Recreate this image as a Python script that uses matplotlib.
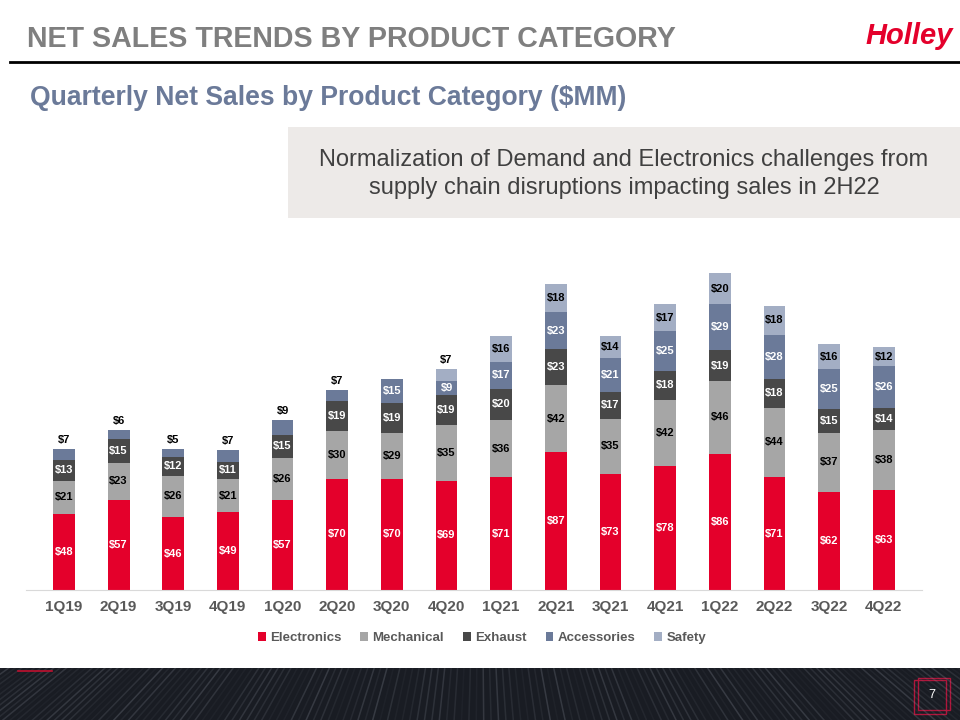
import numpy as np
import matplotlib
matplotlib.use("Agg")
import matplotlib.pyplot as plt
from matplotlib.patches import Rectangle

quarters = ["1Q19", "2Q19", "3Q19", "4Q19", "1Q20", "2Q20", "3Q20", "4Q20",
            "1Q21", "2Q21", "3Q21", "4Q21", "1Q22", "2Q22", "3Q22", "4Q22"]
categories = ["Electronics", "Mechanical", "Exhaust", "Accessories", "Safety"]
electronics = [48, 57, 46, 49, 57, 70, 70, 69, 71, 87, 73, 78, 86, 71, 62, 63]
mechanical = [21, 23, 26, 21, 26, 30, 29, 35, 36, 42, 35, 42, 46, 44, 37, 38]
exhaust = [13, 15, 12, 11, 15, 19, 19, 19, 20, 23, 17, 18, 19, 18, 15, 14]
accessories = [7, 6, 5, 7, 9, 7, 15, 9, 17, 23, 21, 25, 29, 28, 25, 26]
safety = [0, 0, 0, 0, 0, 0, 0, 7, 16, 18, 14, 17, 20, 18, 16, 12]

colors = ["#e4002b", "#a6a6a6", "#484848", "#6b7a99", "#a3aec4"]
label_colors = ["white", "black", "white", "white", "black"]

ARIAL = ["Liberation Sans", "DejaVu Sans"]

W, H = 960, 720
fig = plt.figure(figsize=(9.6, 7.2), dpi=100)


def fx(x):
    return x / W


def fy(y):
    return 1 - y / H


# header
fig.text(fx(27), fy(39), "NET SALES TRENDS BY PRODUCT CATEGORY", family=ARIAL,
         weight="bold", size=20.6, color="#7f7f7f", va="center", ha="left")
fig.text(fx(953), fy(36), "Holley", family=ARIAL, weight="heavy", style="italic",
         size=21, color="#e4002b", va="center", ha="right")
fig.add_artist(plt.Line2D([fx(10), fx(960)], [fy(62), fy(62)], color="black", lw=2))
fig.text(fx(30), fy(98), "Quarterly Net Sales by Product Category ($MM)", family=ARIAL,
         weight="bold", size=19.1, color="#6b7a99", va="center", ha="left")

# note box
fig.add_artist(Rectangle((fx(288), fy(218)), fx(960 - 288), (218 - 127) / H,
                         transform=fig.transFigure, color="#edeae8", lw=0))
fig.text(fx(624), fy(174), "Normalization of Demand and Electronics challenges from\n"
         "supply chain disruptions impacting sales in 2H22", family=ARIAL,
         size=17, color="#404040", ha="center", va="center", linespacing=1.35)

# chart
ax = fig.add_axes([fx(25.7), fy(590), fx(922 - 25.7), (590 - 241) / H])
series = [electronics, mechanical, exhaust, accessories, safety]
x = np.arange(len(quarters))
bottom = np.zeros(len(quarters))
for name, vals, c in zip(categories, series, colors):
    ax.bar(x, vals, bottom=bottom, width=0.4, color=c, label=name, lw=0)
    bottom += np.array(vals)

totals = bottom
bottom = np.zeros(len(quarters))
for k, vals in enumerate(series):
    for i, v in enumerate(vals):
        if v == 0:
            continue
        is_top = all(s[i] == 0 for s in series[k + 1:])
        if is_top and v < 10:
            ax.annotate(f"${v}", (i, totals[i]), xytext=(0, 3), textcoords="offset points",
                        ha="center", va="bottom", size=8, weight="bold",
                        family=ARIAL, color="black")
        else:
            ax.text(i, bottom[i] + v / 2, f"${v}", ha="center", va="center", size=8,
                    weight="bold", family=ARIAL, color=label_colors[k])
    bottom += np.array(vals)

ax.set_xlim(-0.7, 15.7)
ax.set_ylim(0, 220)
ax.set_yticks([])
ax.set_xticks(x)
ax.set_xticklabels(quarters, family=ARIAL, weight="bold", size=11, color="#595959")
ax.tick_params(axis="x", length=0, pad=7)
for s in ["top", "left", "right"]:
    ax.spines[s].set_visible(False)
ax.spines["bottom"].set_color("#d9d9d9")
ax.patch.set_alpha(0)

leg = fig.legend(loc="center", bbox_to_anchor=(fx(482), fy(638)), ncol=5, frameon=False,
                 handlelength=0.6, handleheight=0.6, handletextpad=0.3, columnspacing=1.45,
                 prop={"family": ARIAL, "weight": "bold", "size": 9.5})
for t in leg.get_texts():
    t.set_color("#595959")

# footer band
axf = fig.add_axes([0, 0, 1, (720 - 668) / H])
axf.set_xlim(0, W)
axf.set_ylim(720, 668)
axf.axis("off")
axf.add_patch(Rectangle((0, 668), W, 52, color="#191c23", lw=0))
ends = np.linspace(-700, 1660, 320)
for j, xe in enumerate(ends):
    a = 0.05 + 0.22 * abs(np.sin(j * 1.7)) * abs(np.cos(j * 0.37))
    axf.plot([480, xe], [330, 720], color="#8a909c", lw=1.1, alpha=a)
axf.plot([18, 52], [671, 671], color="#c0102f", lw=1.2)
axf.add_patch(Rectangle((914, 680), 32, 34, fill=False, ec="#b0143a", lw=1))
axf.add_patch(Rectangle((918, 678), 32, 32, fill=False, ec="#b0143a", lw=1))
axf.text(932, 695, "7", color="white", size=9, family=ARIAL, ha="center", va="center")

fig.savefig("out.png", dpi=100)
